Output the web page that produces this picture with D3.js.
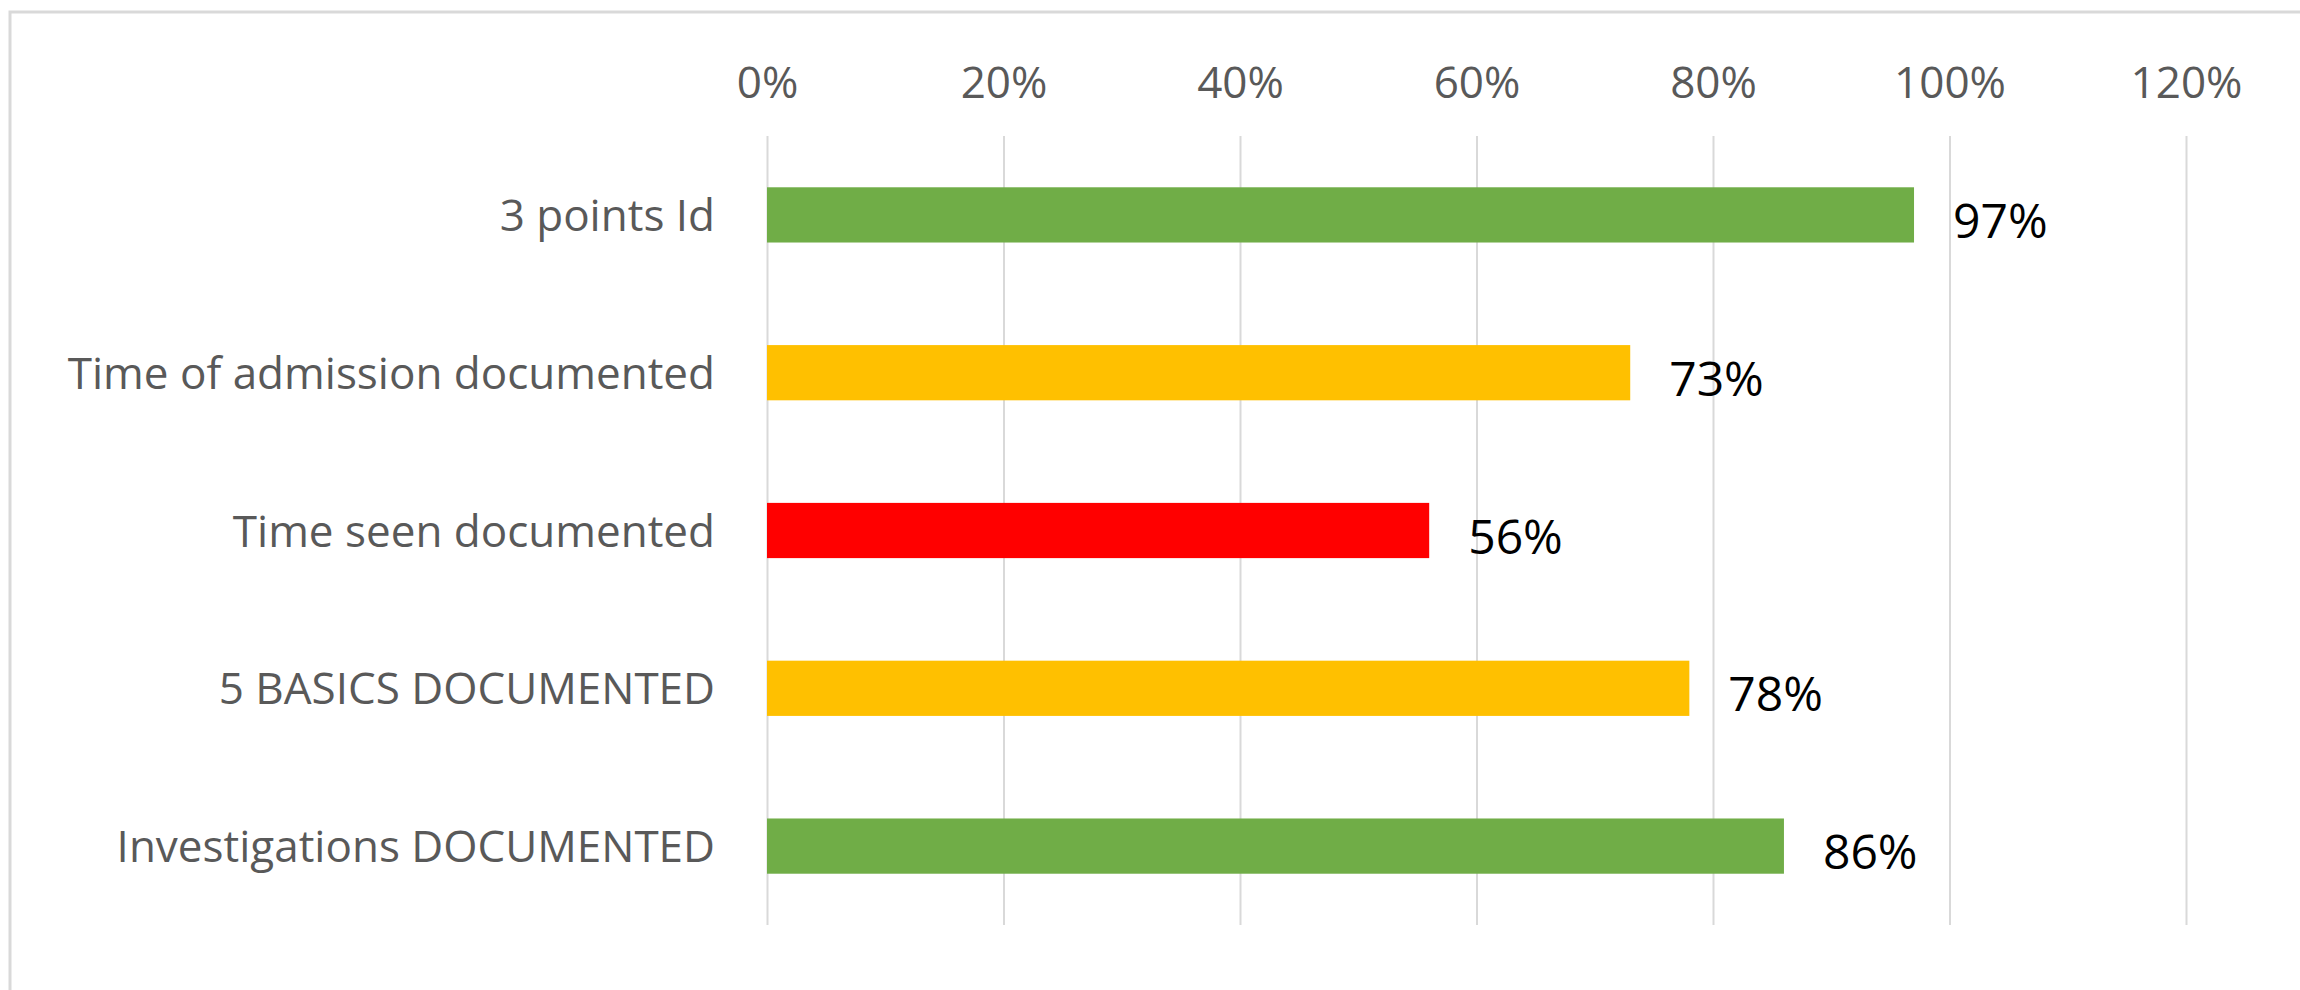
<!DOCTYPE html>
<html>
<head>
<meta charset="utf-8">
<script src="https://cdn.jsdelivr.net/npm/d3@7"></script>
<style>
  body { margin: 0; background: #fff; }
  svg { display: block; }
</style>
</head>
<body>
<div id="chart"></div>
<script>
const categories = [
  "3 points Id",
  "Time of admission documented",
  "Time seen documented",
  "5 BASICS DOCUMENTED",
  "Investigations DOCUMENTED"
];
const values = [0.97, 0.73, 0.56, 0.78, 0.86];
const status = ["good", "warn", "bad", "warn", "good"];
const tickValues = [0, 0.2, 0.4, 0.6, 0.8, 1.0, 1.2];

const width = 2300;
const height = 990;
const font = "'Open Sans', sans-serif";

const svg = d3
  .select("#chart")
  .append("svg")
  .attr("width", width)
  .attr("height", height);

// chart frame (right and bottom edges fall outside the picture)
svg
  .append("rect")
  .attr("x", 10)
  .attr("y", 12)
  .attr("width", width + 20)
  .attr("height", height + 20)
  .attr("fill", "#fff")
  .attr("stroke", "#d9d9d9")
  .attr("stroke-width", 3);

const x = d3.scaleLinear().domain([0, 1.2]).range([767, 2186]);
const y = d3
  .scaleBand()
  .domain(categories)
  .range([136, 925])
  .paddingInner(0.65)
  .paddingOuter(0.325);

const color = d3
  .scaleOrdinal()
  .domain(["good", "warn", "bad"])
  .range(["#70ad47", "#ffc000", "#ff0000"]);

// gridlines + tick labels on top
const axis = svg
  .append("g")
  .attr("transform", "translate(0,136)")
  .call(
    d3
      .axisTop(x)
      .tickValues(tickValues)
      .tickFormat(d3.format(".0%"))
      .tickSize(-(925 - 136))
      .tickPadding(38)
  );

axis.select(".domain").remove();
axis.selectAll(".tick line").attr("stroke", "#d9d9d9").attr("stroke-width", 2);
axis
  .selectAll(".tick text")
  .attr("fill", "#595959")
  .style("font-family", font)
  .style("font-size", "44px");

// bars
svg
  .selectAll(".bar")
  .data(values)
  .enter()
  .append("rect")
  .attr("class", "bar")
  .attr("x", x(0))
  .attr("y", (d, i) => y(categories[i]))
  .attr("width", (d) => x(d) - x(0))
  .attr("height", y.bandwidth())
  .attr("fill", (d, i) => color(status[i]));

// category labels
svg
  .selectAll(".cat")
  .data(categories)
  .enter()
  .append("text")
  .attr("class", "cat")
  .attr("x", x(0) - 52)
  .attr("y", (d) => y(d) + y.bandwidth() / 2 + 16)
  .attr("text-anchor", "end")
  .attr("fill", "#595959")
  .style("font-family", font)
  .style("font-size", "44px")
  .text((d) => d);

// value labels
svg
  .selectAll(".val")
  .data(values)
  .enter()
  .append("text")
  .attr("class", "val")
  .attr("x", (d) => x(d) + 39)
  .attr("y", (d, i) => y(categories[i]) + y.bandwidth() / 2 + 23)
  .attr("fill", "#000")
  .style("font-family", font)
  .style("font-size", "48px")
  .text((d) => d3.format(".0%")(d));
</script>
</body>
</html>
